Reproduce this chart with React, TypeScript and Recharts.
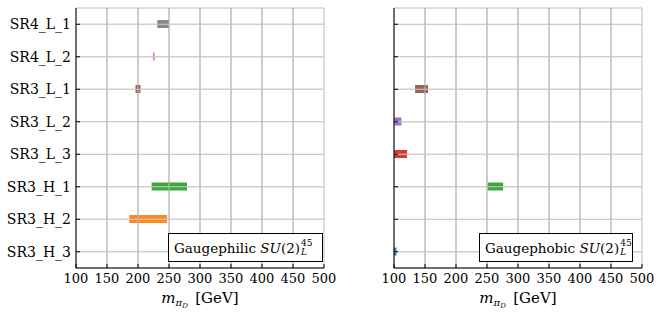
import React from 'react';
import { BarChart, Bar, XAxis, YAxis, CartesianGrid, Cell, Label, ReferenceLine } from 'recharts';

const categories = ['SR4_L_1', 'SR4_L_2', 'SR3_L_1', 'SR3_L_2', 'SR3_L_3', 'SR3_H_1', 'SR3_H_2', 'SR3_H_3'];
const colors = ['#7f7f7f', '#e377c2', '#8c564b', '#9467bd', '#d62728', '#2ca02c', '#ff7f0e', '#1f77b4'];
const philicLow: (number | null)[] = [231, 224, 196, null, null, 222, 186, null];
const philicHigh: (number | null)[] = [250, 227, 204, null, null, 279, 247, null];
const phobicLow: (number | null)[] = [null, null, 134, 100, 100, 251, null, 100];
const phobicHigh: (number | null)[] = [null, null, 155, 112, 121, 276, null, 104];
const xTicks = [100, 150, 200, 250, 300, 350, 400, 450, 500];

const FONT = '"DejaVu Serif", serif';
const FS = 14;
const GRID = '#bcbcbc';

const build = (lo: (number | null)[], hi: (number | null)[]) =>
  categories.map((name, i) => ({
    name,
    range: lo[i] != null && hi[i] != null ? [lo[i], hi[i]] : null,
  }));

const philicData = build(philicLow, philicHigh);
const phobicData = build(phobicLow, phobicHigh);

const BottomTick = (props: any) => {
  const { x, y, payload } = props;
  return (
    <g>
      <line x1={x} x2={x} y1={y} y2={y - 4} stroke="#000" strokeWidth={1} />
      <text x={x} y={y + 15} textAnchor="middle" fontSize={13} style={{ fontFamily: FONT }} fill="#000">
        {payload.value}
      </text>
    </g>
  );
};
const TopTick = (props: any) => {
  const { x, y } = props;
  return <line x1={x} x2={x} y1={y} y2={y + 4} stroke="#000" strokeWidth={1} />;
};
const LeftTickLabeled = (props: any) => {
  const { x, y, payload } = props;
  return (
    <g>
      <line x1={x} x2={x + 4} y1={y} y2={y} stroke="#000" strokeWidth={1} />
      <text x={x - 5} y={y + 5} textAnchor="end" fontSize={FS} style={{ fontFamily: FONT }} fill="#000">
        {payload.value}
      </text>
    </g>
  );
};
const LeftTickBare = (props: any) => {
  const { x, y } = props;
  return <line x1={x} x2={x + 4} y1={y} y2={y} stroke="#000" strokeWidth={1} />;
};
const RightTick = (props: any) => {
  const { x, y } = props;
  return <line x1={x} x2={x - 4} y1={y} y2={y} stroke="#000" strokeWidth={1} />;
};

const XLabel = (props: any) => {
  const vb = props.viewBox || {};
  const cx = vb.x + vb.width / 2;
  const y = vb.y + 35;
  return (
    <text x={cx} y={y} textAnchor="middle" style={{ fontFamily: FONT }} fontSize={FS + 1} fill="#000">
      <tspan fontStyle="italic">m</tspan>
      <tspan fontStyle="italic" fontSize={10} dy={3}>π</tspan>
      <tspan fontStyle="italic" fontSize={7} dy={2}>D</tspan>
      <tspan dy={-5}>{'\u2002[GeV]'}</tspan>
    </text>
  );
};

interface PanelProps {
  data: any[];
  left: number;
  width: number;
  yWidth: number;
  rightMargin: number;
  labeled: boolean;
}

const Panel = ({ data, left, width, yWidth, rightMargin, labeled }: PanelProps) => (
  <div style={{ position: 'absolute', left, top: 0 }}>
    <BarChart
      width={width}
      height={320}
      data={data}
      layout="vertical"
      margin={{ top: 8, right: rightMargin, left: 0, bottom: 0 }}
      barSize={8}
    >
      <CartesianGrid xAxisId="bottom" yAxisId="left" stroke={GRID} strokeWidth={1} verticalValues={xTicks} />
      <XAxis
        xAxisId="bottom"
        type="number"
        orientation="bottom"
        domain={[100, 500]}
        ticks={xTicks}
        interval={0}
        allowDataOverflow
        height={52}
        tickSize={0}
        tickMargin={0}
        tickLine={false}
        axisLine={{ stroke: '#000', strokeWidth: 1 }}
        tick={<BottomTick />}
      >
        <Label content={<XLabel />} />
      </XAxis>
      <XAxis
        xAxisId="top"
        type="number"
        orientation="top"
        domain={[100, 500]}
        ticks={xTicks}
        interval={0}
        allowDataOverflow
        height={0}
        tickSize={0}
        tickMargin={0}
        tickLine={false}
        axisLine={{ stroke: '#000', strokeWidth: 1 }}
        tick={<TopTick />}
      />
      <YAxis
        yAxisId="left"
        type="category"
        dataKey="name"
        orientation="left"
        width={yWidth}
        interval={0}
        tickSize={0}
        tickMargin={0}
        tickLine={false}
        axisLine={{ stroke: '#000', strokeWidth: 1 }}
        tick={labeled ? <LeftTickLabeled /> : <LeftTickBare />}
      />
      <YAxis
        yAxisId="right"
        type="category"
        dataKey="name"
        orientation="right"
        width={0}
        interval={0}
        tickSize={0}
        tickMargin={0}
        tickLine={false}
        axisLine={{ stroke: '#000', strokeWidth: 1 }}
        tick={<RightTick />}
      />
      <Bar dataKey="range" xAxisId="bottom" yAxisId="left" isAnimationActive={false}>
        {data.map((d, i) => (
          <Cell key={d.name} fill={colors[i]} fillOpacity={0.92} />
        ))}
      </Bar>
      {data
        .filter((d) => d.range)
        .map((d) => (
          <ReferenceLine
            key={'h' + d.name}
            xAxisId="bottom"
            yAxisId="left"
            y={d.name}
            stroke="#d0d0d0"
            strokeWidth={1}
          />
        ))}
      {xTicks.slice(1, -1).map((t) => (
        <ReferenceLine key={'v' + t} xAxisId="bottom" yAxisId="left" x={t} stroke={GRID} strokeWidth={1} />
      ))}
    </BarChart>
  </div>
);

const LegendBox = ({ left, width, text }: { left: number; width: number; text: string }) => (
  <div
    style={{
      position: 'absolute',
      left,
      top: 233,
      width,
      height: 29,
      boxSizing: 'border-box',
      border: '1px solid #000',
      background: '#fff',
      display: 'flex',
      alignItems: 'center',
      paddingLeft: 5,
      fontFamily: FONT,
      fontSize: 13.5,
      color: '#000',
      whiteSpace: 'nowrap',
    }}
  >
    <span>{text}&nbsp;</span>
    <i>SU</i>
    <span>(2)</span>
    <span
      style={{
        display: 'inline-flex',
        flexDirection: 'column',
        fontSize: 9,
        lineHeight: '9px',
        marginLeft: 1,
      }}
    >
      <span>45</span>
      <i>L</i>
    </span>
  </div>
);

export default function App() {
  return (
    <div style={{ position: 'absolute', left: 0, top: 0, width: 664, height: 320, background: '#fff', fontFamily: FONT }}>
      <Panel data={philicData} left={0} width={336} yWidth={76} rightMargin={12} labeled />
      <Panel data={phobicData} left={336} width={328} yWidth={58} rightMargin={22} labeled={false} />
      <LegendBox left={168} width={155} text="Gaugephilic" />
      <LegendBox left={479} width={154} text="Gaugephobic" />
    </div>
  );
}
